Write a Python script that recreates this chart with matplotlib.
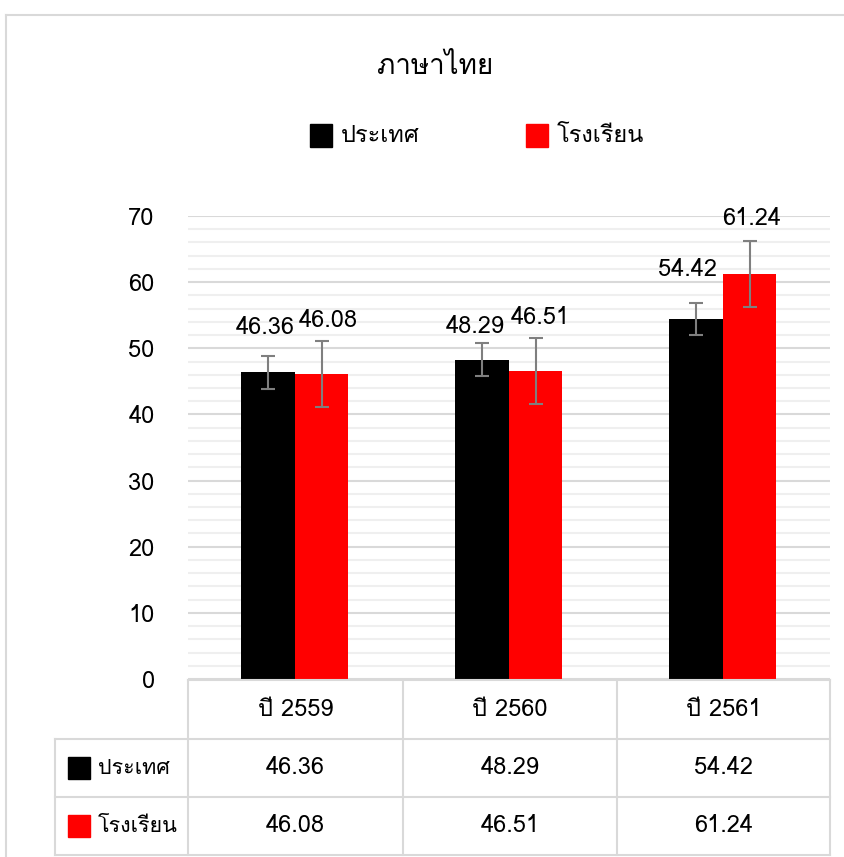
import matplotlib
matplotlib.use("Agg")
import matplotlib.pyplot as plt
import matplotlib.font_manager as fm
from matplotlib.ft2font import FT2Font
from matplotlib.lines import Line2D
from matplotlib.patches import Rectangle
from matplotlib.ticker import MultipleLocator

# --- Data ---
title = "ภาษาไทย"
years = ["ปี 2559", "ปี 2560", "ปี 2561"]
series_names = ["ประเทศ", "โรงเรียน"]
country = [46.36, 48.29, 54.42]
school = [46.08, 46.51, 61.24]
country_err = [2.45, 2.45, 2.45]
school_err = [5.0, 5.0, 5.0]
colors = ["#000000", "#ff0000"]

# label nudges (points) - labels were hand placed in the original
country_lbl_off = [(-2.5, 32), (-5, 24), (-6, 36)]
school_lbl_off = [(5, 39), (3.6, 39), (1.4, 40)]

# --- Find a font with Thai glyphs ---
thai_font = None
for f in fm.fontManager.ttflist:
    try:
        if ord("ก") in FT2Font(f.fname).get_charmap():
            thai_font = f.name
            break
    except Exception:
        pass
fams = [thai_font, "DejaVu Sans"] if thai_font else ["DejaVu Sans"]
plt.rcParams["font.family"] = fams

W, H = 845, 857
fig = plt.figure(figsize=(W / 100, H / 100), dpi=100)

def fx(px):
    return px / W

def fy(py):
    return 1 - py / H

grid_c = "#d9d9d9"
# outer chart border
fig.add_artist(Line2D([fx(6), fx(6)], [0, fy(15)], color=grid_c, lw=1.5))
fig.add_artist(Line2D([fx(6), 1], [fy(15), fy(15)], color=grid_c, lw=1.5))

# --- Plot area ---
ax = fig.add_axes([fx(188), fy(679), fx(830) - fx(188), fy(216) - fy(679)])
ax.set_ylim(0, 70)
ax.set_xlim(-0.5, 2.5)
ax.yaxis.set_major_locator(MultipleLocator(10))
ax.yaxis.set_minor_locator(MultipleLocator(2))
ax.grid(axis="y", which="major", color=grid_c, lw=1.5)
ax.grid(axis="y", which="minor", color="#efefef", lw=1.5)
ax.set_axisbelow(True)
for s in ax.spines.values():
    s.set_visible(False)
ax.set_xticks([])
ax.tick_params(axis="y", which="both", length=0, labelsize=17, pad=24)

bw = 0.25
xs = range(len(years))
for vals, errs, c, off, lbl_off in zip([country, school], [country_err, school_err],
                                       colors, [-bw / 2, bw / 2],
                                       [country_lbl_off, school_lbl_off]):
    pos = [x + off for x in xs]
    ax.bar(pos, vals, width=bw, color=c, zorder=2)
    ax.errorbar(pos, vals, yerr=errs, fmt="none", ecolor="#7f7f7f", elinewidth=1.5,
                capsize=5, capthick=1.5, zorder=3)
    for p, v, o in zip(pos, vals, lbl_off):
        ax.annotate(f"{v:.2f}", (p, v), xytext=o, textcoords="offset points",
                    ha="center", va="center", fontsize=17)

# --- Title and legend ---
fig.text(fx(435), fy(67), title, ha="center", va="center", fontsize=20)
for name, c, kx in zip(series_names, colors, [310, 526]):
    fig.add_artist(Rectangle((fx(kx), fy(147)), fx(22), fy(124) - fy(147), color=c))
    fig.text(fx(kx + 31), fy(135), name, ha="left", va="center", fontsize=17)

# --- Data table ---
cols = [188, 403, 617, 830]
rows = [680, 739, 797, 855]
tl = dict(color=grid_c, lw=1.5)
fig.add_artist(Line2D([fx(188), fx(830)], [fy(680), fy(680)], **tl))
for r in rows[1:]:
    fig.add_artist(Line2D([fx(55), fx(830)], [fy(r), fy(r)], **tl))
for cx in cols:
    fig.add_artist(Line2D([fx(cx), fx(cx)], [fy(680), fy(855)], **tl))
fig.add_artist(Line2D([fx(55), fx(55)], [fy(739), fy(855)], **tl))

for j, yr in enumerate(years):
    cx = (cols[j] + cols[j + 1]) / 2
    fig.text(fx(cx), fy(709), yr, ha="center", va="center", fontsize=17)
    for k, vals in enumerate([country, school]):
        cy = (rows[k + 1] + rows[k + 2]) / 2
        fig.text(fx(cx), fy(cy), f"{vals[j]:.2f}", ha="center", va="center", fontsize=17)

for k, (name, c) in enumerate(zip(series_names, colors)):
    cy = (rows[k + 1] + rows[k + 2]) / 2
    fig.add_artist(Rectangle((fx(68), fy(cy + 11)), fx(22), fy(cy - 11) - fy(cy + 11), color=c))
    fig.text(fx(98), fy(cy), name, ha="left", va="center", fontsize=15.5)

fig.savefig("out.png", dpi=100)
